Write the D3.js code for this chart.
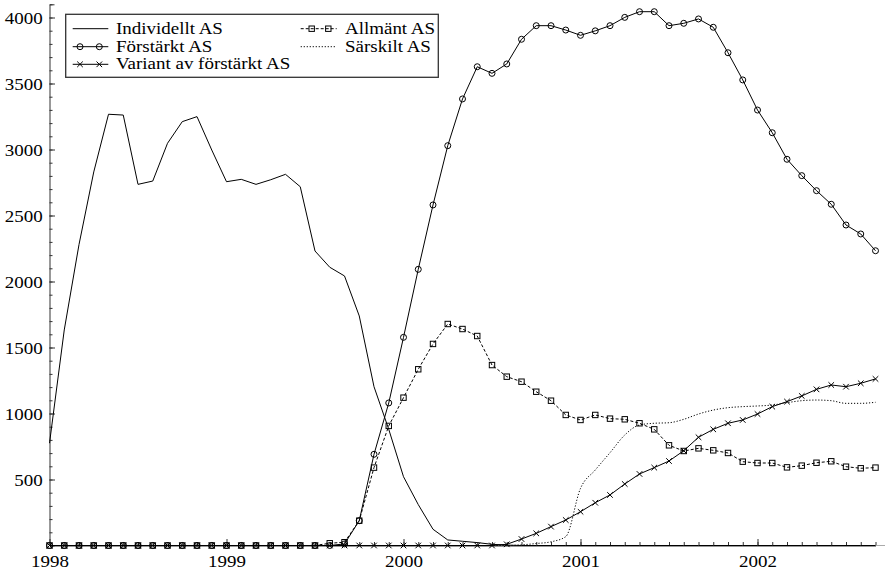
<!DOCTYPE html>
<html>
<head>
<meta charset="utf-8">
<script src="https://cdn.jsdelivr.net/npm/d3@7"></script>
<style>
html,body{margin:0;padding:0;background:#fff;}
</style>
</head>
<body>
<svg id="chart" width="885" height="574"></svg>
<script>
// ---- data (monthly, Jan 1998 .. Sep 2002) ----
const startYear = 1998;
const yearTicks = [1998, 1999, 2000, 2001, 2002];
const yTickLabels = [500, 1000, 1500, 2000, 2500, 3000, 3500, 4000];

const individuellt = [775,1633,2280,2830,3267,3261,2736,2761,3047,3211,3249,2996,
  2756,2774,2736,2771,2812,2718,2231,2108,2042,1739,1203,880,
  521,310,123,42,32,22,9,3,0,0,0,0,
  0,0,0,0,0,0,0,0,0,0,0,0,
  0,0,0,0,0,0,0,0,0];
const forstarkt = [0,0,0,0,0,0,0,0,0,0,0,0,
  0,0,0,0,0,0,0,0,12,188,691,1080,
  1577,2092,2580,3029,3383,3627,3577,3648,3835,3938,3938,3905,
  3865,3899,3938,4001,4044,4044,3938,3956,3989,3926,3733,3527,
  3299,3127,2926,2802,2688,2585,2428,2360,2233];
const variant = [0,0,0,0,0,0,0,0,0,0,0,0,
  0,0,0,0,0,0,0,0,0,0,0,0,
  0,0,0,0,0,0,0,9,49,92,143,193,
  256,324,383,466,542,590,640,718,820,880,926,951,
  996,1052,1090,1133,1183,1216,1203,1229,1262];
const allmant = [0,0,0,0,0,0,0,0,0,0,0,0,
  0,0,0,0,0,0,0,17,25,188,590,906,
  1120,1335,1527,1678,1640,1587,1367,1279,1241,1165,1097,989,
  951,989,961,956,926,880,759,716,736,721,701,635,
  625,625,592,605,627,638,597,585,590];
const sarskilt = [0,0,0,0,0,0,0,0,0,0,0,0,
  0,0,0,0,0,0,0,0,0,0,0,0,
  0,0,0,0,0,0,0,0,5,15,28,67,
  433,572,703,837,913,926,930,956,996,1026,1044,1052,
  1057,1064,1082,1097,1102,1097,1077,1077,1085];

const seriesNames = ["Individellt AS","Förstärkt AS","Variant av förstärkt AS","Allmänt AS","Särskilt AS"];

// ---- layout ----
const svg = d3.select("#chart");
const FONT = "Liberation Serif";
const FS = 16.5, SX = 1.15;
const lastT = startYear + (individuellt.length - 1) / 12;
const x = d3.scaleLinear().domain([startYear, lastT]).range([49.5, 875.5]);
const y = d3.scaleLinear().domain([0, 4100]).range([545.5, 4.3]);
const tOf = i => startYear + i / 12;

// axes
const monthTicks = d3.range(individuellt.length).map(tOf);
const xMinor = svg.append("g").attr("transform", `translate(0,${y(0)})`)
  .call(d3.axisBottom(x).tickValues(monthTicks).tickSize(-3.5).tickFormat(""));
xMinor.select(".domain").remove();
const xAxis = svg.append("g").attr("transform", `translate(0,${y(0)})`)
  .call(d3.axisBottom(x).tickValues(yearTicks).tickSize(-6.5).tickSizeOuter(0).tickPadding(9.5).tickFormat(d3.format("d")));
svg.append("line").attr("x1", x(lastT)).attr("x2", 885).attr("y1", y(0)).attr("y2", y(0))
  .attr("stroke", "#aaa").attr("stroke-width", 1);

const yMinor = svg.append("g").attr("transform", `translate(${x(startYear)},0)`)
  .call(d3.axisLeft(y).tickValues(d3.range(100, 4101, 100)).tickSize(-3).tickFormat(""));
yMinor.select(".domain").remove();
const yAxis = svg.append("g").attr("transform", `translate(${x(startYear)},0)`)
  .call(d3.axisLeft(y).tickValues(yTickLabels).tickSize(-5.5).tickSizeOuter(-5).tickPadding(6).tickFormat(d3.format("d")));

[xAxis, yAxis, xMinor, yMinor].forEach(g => {
  g.selectAll("path,line").attr("stroke", "#333").attr("stroke-width", 1);
  g.selectAll("text").attr("font-size", FS).attr("fill", "#000")
   .style("font-family", FONT).style("font-size", FS + "px")
   .attr("transform", `scale(${SX},1)`);
});
yAxis.selectAll("text").attr("dy", "0.34em");

// lines
const mkLine = (curve) => d3.line().x((d, i) => x(tOf(i))).y(d => y(d)).curve(curve || d3.curveLinear);
const plot = svg.append("g");

function drawSeries(data, opts) {
  plot.append("path").datum(data)
    .attr("d", mkLine(opts.curve)(data))
    .attr("fill", "none").attr("stroke", "#000").attr("stroke-width", opts.sw || 1)
    .attr("stroke-dasharray", opts.dash || null);
  if (opts.marker) {
    const g = plot.append("g");
    data.forEach((d, i) => drawMarker(g, opts.marker, x(tOf(i)), y(d)));
  }
}
function drawMarker(g, type, cx, cy) {
  if (type === "circle") {
    g.append("circle").attr("cx", cx).attr("cy", cy).attr("r", 3)
      .attr("fill", "none").attr("stroke", "#000").attr("stroke-width", 1);
  } else if (type === "square") {
    g.append("rect").attr("x", cx - 2.7).attr("y", cy - 2.7).attr("width", 5.4).attr("height", 5.4)
      .attr("fill", "none").attr("stroke", "#000").attr("stroke-width", 1);
  } else if (type === "x") {
    const s = 2.8;
    g.append("path").attr("d", `M${cx-s},${cy-s}L${cx+s},${cy+s}M${cx-s},${cy+s}L${cx+s},${cy-s}`)
      .attr("stroke", "#000").attr("stroke-width", 1);
  }
}

drawSeries(individuellt, {});
drawSeries(forstarkt, { marker: "circle" });
drawSeries(variant, { marker: "x" });
drawSeries(allmant, { marker: "square", dash: "3,2" });
drawSeries(sarskilt, { dash: "1.2,1.8", curve: d3.curveMonotoneX, sw: 1 });

// legend
const lg = svg.append("g");
lg.append("rect").attr("x", 65.7).attr("y", 14.3).attr("width", 372.6).attr("height", 63)
  .attr("fill", "#fff").attr("stroke", "#333").attr("stroke-width", 1.3);
const legendItems = [
  { name: seriesNames[0], col: 0, row: 0, marker: null, dash: null },
  { name: seriesNames[1], col: 0, row: 1, marker: "circle", dash: null },
  { name: seriesNames[2], col: 0, row: 2, marker: "x", dash: null },
  { name: seriesNames[3], col: 1, row: 0, marker: "square", dash: "3,2" },
  { name: seriesNames[4], col: 1, row: 1, marker: null, dash: "1.2,1.8" }
];
const colX = [{ l0: 72.7, l1: 108.3, m: [80, 99.3], tx: 116 }, { l0: 300.7, l1: 336.7, m: [311.7, 328.3], tx: 345 }];
const rowY = [28.7, 46.7, 64.3];
legendItems.forEach(it => {
  const c = colX[it.col], yy = rowY[it.row];
  lg.append("line").attr("x1", c.l0).attr("x2", c.l1).attr("y1", yy).attr("y2", yy)
    .attr("stroke", "#000").attr("stroke-width", 1).attr("stroke-dasharray", it.dash);
  if (it.marker) c.m.forEach(mx => drawMarker(lg, it.marker, mx, yy));
  lg.append("g").attr("transform", `translate(${c.tx},${yy + 5})`)
    .append("text").attr("transform", `scale(${SX},1)`)
    .style("font-family", FONT).style("font-size", FS + "px")
    .attr("fill", "#000").text(it.name);
});
</script>
</body>
</html>
